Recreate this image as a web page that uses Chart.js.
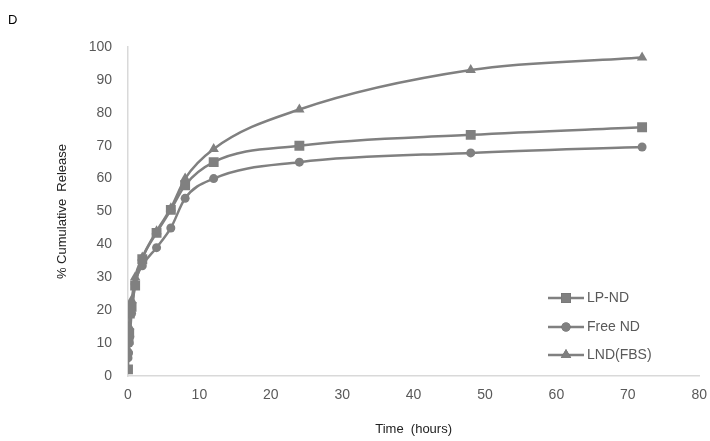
<!DOCTYPE html>
<html>
<head>
<meta charset="utf-8">
<script src="https://cdn.jsdelivr.net/npm/chart.js@4"></script>
<style>
  html, body { margin: 0; padding: 0; background: #fff; }
  #wrap { width: 710px; height: 441px; }
</style>
</head>
<body>
<div id="wrap"><canvas id="releaseChart" width="710" height="441"></canvas></div>
<script>
const timePoints = [0, 0.083, 0.167, 0.25, 0.5, 1, 2, 4, 6, 8, 12, 24, 48, 72];
const lpNd = [2, 11, 13, 19, 21, 27.5, 35.5, 43.5, 50.5, 58, 65, 70, 73.3, 75.6];
const freeNd = [5.5, 7, 10, 12, 19, 28, 33.5, 39, 45, 54, 60, 65, 67.8, 69.6];
const lndFbs = [8, 13, 15, 20, 23, 30, 36, 44, 51, 60, 69, 81, 93, 96.8];
const seriesNames = ['LP-ND', 'Free ND', 'LND(FBS)'];

const grey = '#808080';
const tickColor = '#595959';
const font = 'Liberation Sans, Arial, sans-serif';

function toPoints(values) {
    return timePoints.map((t, i) => ({ x: t, y: values[i] }));
}

function makeDataset(label, values, style, radius) {
    return {
        label: label,
        data: toPoints(values),
        borderColor: grey,
        backgroundColor: grey,
        borderWidth: 2.5,
        pointStyle: style,
        pointRadius: radius,
        pointBorderWidth: 0,
        pointBackgroundColor: grey,
        tension: 0.4,
        cubicInterpolationMode: 'monotone'
    };
}

// legend and panel letter drawn in fixed spots, like the original figure
const extrasPlugin = {
    id: 'extras',
    afterDraw(chart) {
        const ctx = chart.ctx;
        ctx.save();
        ctx.fillStyle = '#000';
        ctx.font = '13px ' + font;
        ctx.textBaseline = 'middle';
        ctx.fillText('D', 8, 20);

        const rows = [298, 327, 355];
        chart.data.datasets.forEach((ds, i) => {
            const y = rows[i];
            ctx.strokeStyle = grey;
            ctx.lineWidth = 2.5;
            ctx.beginPath();
            ctx.moveTo(548, y);
            ctx.lineTo(584, y);
            ctx.stroke();
            Chart.helpers.drawPoint(ctx, {
                pointStyle: ds.pointStyle,
                radius: ds.pointRadius,
                borderWidth: 0
            }, 566, y);
            ctx.fillStyle = grey;
            ctx.fill();
            ctx.fillStyle = tickColor;
            ctx.font = '14px ' + font;
            ctx.fillText(ds.label, 587, y);
        });
        ctx.restore();
    }
};

const ctx = document.getElementById('releaseChart').getContext('2d');
new Chart(ctx, {
    type: 'line',
    data: {
        datasets: [
            makeDataset(seriesNames[0], lpNd, 'rect', 7),
            makeDataset(seriesNames[1], freeNd, 'circle', 4.5),
            makeDataset(seriesNames[2], lndFbs, 'triangle', 6)
        ]
    },
    options: {
        responsive: false,
        animation: false,
        layout: { padding: { left: 51, top: 47, right: 4, bottom: 0 } },
        plugins: {
            legend: { display: false },
            tooltip: { enabled: false }
        },
        scales: {
            x: {
                type: 'linear',
                min: 0,
                max: 80,
                ticks: { stepSize: 10, color: tickColor, font: { family: font, size: 14 }, padding: 3 },
                grid: { display: false },
                border: { display: true, color: '#d9d9d9', width: 1.5 },
                title: {
                    display: true,
                    text: 'Time  (hours)',
                    color: '#222',
                    font: { family: font, size: 13 },
                    padding: { top: 11 }
                },
                afterFit(scale) { scale.height = 65; }
            },
            y: {
                min: 0,
                max: 100,
                ticks: { stepSize: 10, color: tickColor, font: { family: font, size: 14 }, padding: 8 },
                grid: { display: false },
                border: { display: true, color: '#d9d9d9', width: 1.5 },
                title: {
                    display: true,
                    text: '% Cumulative  Release',
                    color: '#222',
                    font: { family: font, size: 13 },
                    padding: { top: 4 }
                },
                afterFit(scale) { scale.width = 77; }
            }
        }
    },
    plugins: [extrasPlugin]
});
</script>
</body>
</html>
